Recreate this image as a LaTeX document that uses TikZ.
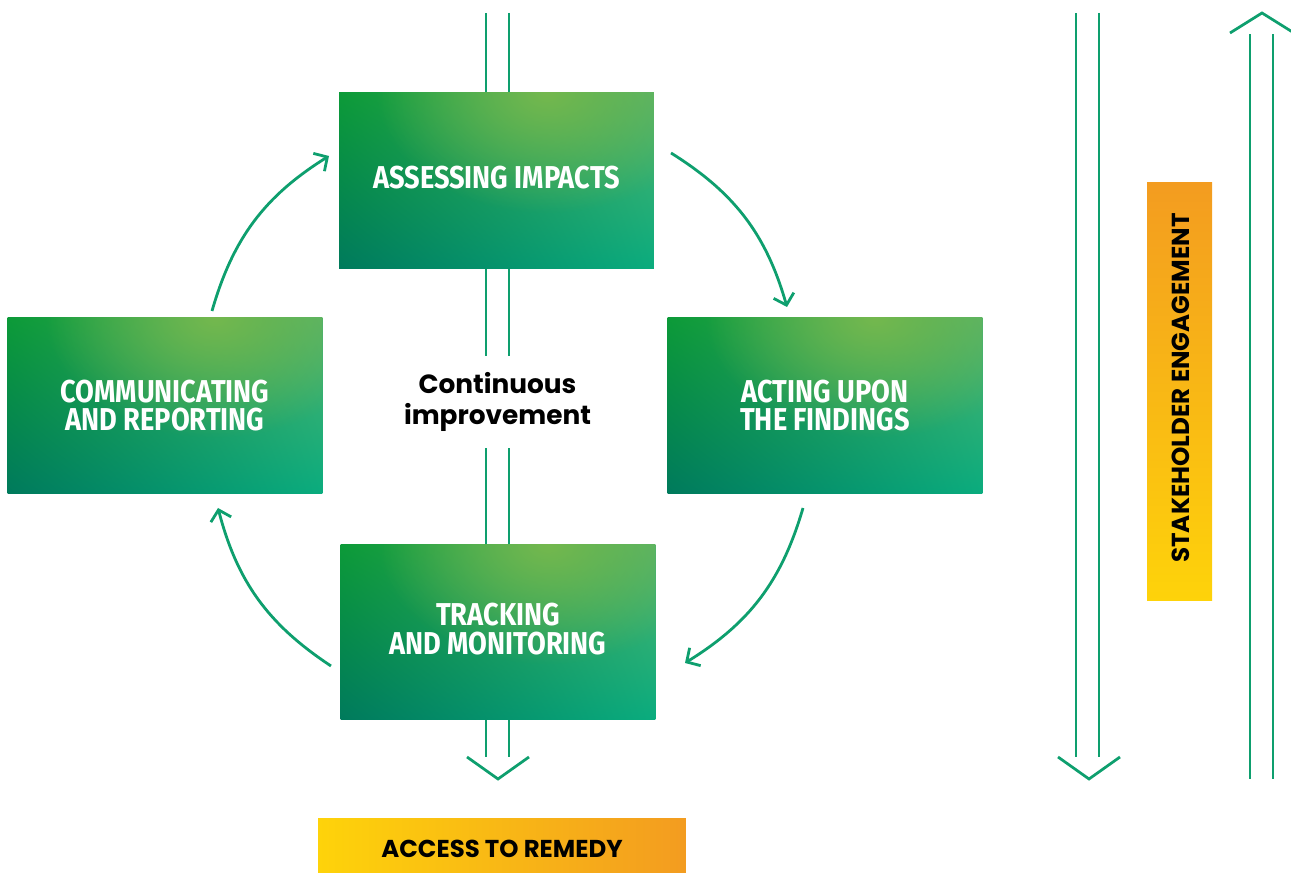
\documentclass[tikz,border=0pt]{standalone}
\usepackage{fontspec}
\setmainfont{Fira Sans}
\newfontfamily\boxfont[FakeStretch=0.86]{Fira Sans}
\newfontfamily\geofont{Poppins}
\usetikzlibrary{arrows.meta,fadings,backgrounds,shadings}
\definecolor{lgreen}{HTML}{0E9F6E}
\definecolor{gTL}{HTML}{0C9A38}
\definecolor{gTR}{HTML}{52B26B}
\definecolor{gBL}{HTML}{007A5C}
\definecolor{gBR}{HTML}{0AAC7E}
\definecolor{gHi}{HTML}{74B84E}
\definecolor{yel}{HTML}{FED30A}
\definecolor{org}{HTML}{F39C20}
\tikzfading[name=glowfade, inner color=transparent!0, outer color=transparent!100]
\tikzset{
  stagebox/.style={minimum width=6.3cm, minimum height=3.52cm, inner sep=0pt,
    text=white, align=center, font=\boxfont\bfseries\fontsize{18}{16.3}\selectfont,
    path picture={
      \shade[upper left=gTL, upper right=gTR, lower left=gBL, lower right=gBR]
        (path picture bounding box.south west) rectangle (path picture bounding box.north east);
      \fill[gHi, path fading=glowfade]
        ([xshift=1.0cm]path picture bounding box.north) ellipse (3.4cm and 2.4cm);
    }},
  dbl/.style={draw=lgreen, line width=0.052cm, double=white, double distance=0.408cm},
  chev/.style={draw=lgreen, line width=0.055cm, line join=miter},
  cyc/.style={draw=lgreen, line width=0.056cm, bend left=21,
    -{Straight Barb[length=0.2cm, width=0.42cm]}},
  barbox/.style={inner sep=0pt},
  bartext/.style={inner sep=0pt, text=black, font=\geofont\bfseries\fontsize{13.9}{16}\selectfont},
  cilabel/.style={inner sep=0pt, minimum height=1.84cm, align=center, text=black,
    font=\geofont\bfseries\fontsize{15}{17.4}\selectfont}
}
\begin{document}
\begin{tikzpicture}[x=0.02cm, y=0.02cm]
\useasboundingbox (0,0) rectangle (1291,874);
\clip (0,0) rectangle (1291,874);

% stage boxes
\node[stagebox] (A) at (496.5,693) {};
\node[text=white, inner sep=0pt, font=\boxfont\bfseries\fontsize{18}{16.3}\selectfont] (Atext) at (496.5,696) {ASSESSING IMPACTS};
\node[stagebox] (B) at (825,468.5) {ACTING UPON\\THE FINDINGS};
\node[stagebox] (C) at (498,242) {};
\node[text=white, inner sep=0pt, align=center, font=\boxfont\bfseries\fontsize{18}{16.3}\selectfont] (Ctext) at (498,245) {TRACKING\\AND MONITORING};
\node[stagebox] (D) at (165,468.5) {COMMUNICATING\\AND REPORTING};

\node[cilabel] (ci) at (497.5,472) {Continuous\\improvement};

% orange bars
\node[barbox, minimum width=1.3cm, minimum height=8.38cm,
      top color=org, bottom color=yel] (se) at (1179.5,482.5) {};
\node[bartext, rotate=90, font=\geofont\bfseries\fontsize{14}{16}\selectfont] (setext) at (1181,486) {STAKEHOLDER ENGAGEMENT};
\node[barbox, minimum width=7.36cm, minimum height=1.08cm,
      left color=yel, right color=org] (ar) at (502,28) {};
\node[bartext] (artext) at (502,25) {ACCESS TO REMEDY};

% coordinates
\coordinate (t1) at (497.5,861);
\coordinate (t2) at (497.5,117);
\coordinate (c1l) at (467,117);
\coordinate (c1t) at (498,95);
\coordinate (c1r) at (529,117);
\coordinate (r1) at (1087.5,861);
\coordinate (r2) at (1087.5,117);
\coordinate (c2l) at (1058,117);
\coordinate (c2t) at (1089,95);
\coordinate (c2r) at (1120,117);
\coordinate (u1) at (1261.5,95);
\coordinate (u2) at (1261.5,840);
\coordinate (c3l) at (1230,841);
\coordinate (c3t) at (1262,861);
\coordinate (c3r) at (1294,841);

\coordinate (ab1) at (671,721);
\coordinate (ab2) at (787,567);
\coordinate (bc1) at (803,366);
\coordinate (bc2) at (685,211);
\coordinate (cd1) at (331,208);
\coordinate (cd2) at (218,366);
\coordinate (da1) at (212,563);
\coordinate (da2) at (329,718);

\begin{scope}[on background layer]
\draw[dbl] (t1) -- (t1 |- A.north);
\draw[dbl] (t1 |- A.south) -- (ci.north);
\draw[dbl] (ci.south) -- (ci.south |- C.north);
\draw[dbl] (ci.south |- C.south) -- (t2);
\draw[dbl] (r1) -- (r2);
\draw[dbl] (u1) -- (u2);
\end{scope}
\draw[chev] (c1l) -- (c1t) -- (c1r);
\draw[chev] (c2l) -- (c2t) -- (c2r);
\draw[chev] (c3l) -- (c3t) -- (c3r);

% cycle arrows
\draw[cyc] (ab1) to (ab2);
\draw[cyc] (bc1) to (bc2);
\draw[cyc] (cd1) to (cd2);
\draw[cyc] (da1) to (da2);
\end{tikzpicture}
\end{document}
